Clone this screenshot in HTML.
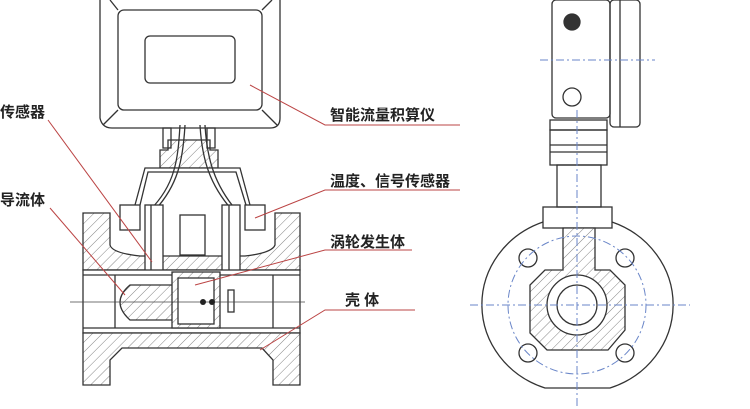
<!DOCTYPE html>
<html><head><meta charset="utf-8"><style>
html,body{margin:0;padding:0;background:#fff;}
svg{display:block;}
text{font-family:"Liberation Sans","Noto Sans CJK SC",sans-serif;font-weight:bold;fill:#222;font-size:15px;}
</style></head><body>
<svg width="750" height="409" viewBox="0 0 750 409" xmlns="http://www.w3.org/2000/svg">
<defs>
<pattern id="h" width="7" height="7" patternUnits="userSpaceOnUse" patternTransform="rotate(45)">
<rect width="7" height="7" fill="#fff"/><line x1="0" y1="0" x2="0" y2="7" stroke="#666" stroke-width="0.8"/>
</pattern>
</defs>
<g fill="none" stroke="#333" stroke-width="1.3">
<!-- display box -->
<path d="M100,0 L100,118 Q102,128 112,128 L270,128 Q280,128 280,118 L280,0" />
<rect x="118" y="10" width="144" height="100" rx="6"/>
<rect x="145" y="36" width="90" height="47" rx="5"/>
<line x1="110" y1="0" x2="118" y2="10"/><line x1="272" y1="0" x2="262" y2="10"/>
<line x1="103" y1="125" x2="118" y2="110"/><line x1="277" y1="125" x2="262" y2="110"/>
<!-- neck -->
<path d="M160,150 L160,168 L218,168 L218,150 L210,150 L210,140 L168,140 L168,150 Z" fill="url(#h)"/>
<rect x="163" y="128" width="8" height="20"/><rect x="207" y="128" width="8" height="20"/>
<path d="M135,205 L145,168 L240,168 L250,205" fill="#fff"/>
<path d="M140,205 L148,172 L236,172 L246,205"/>
<path d="M180,125 C178,160 175,185 150,210 M185,125 C183,160 178,185 155,210 M200,125 C202,160 210,185 232,210 M205,125 C207,160 215,185 236,210"/>
<!-- body top -->
<path d="M83,213 L110,213 L110,245 Q112,253 140,256 L245,256 Q272,253 275,245 L275,213 L300,213 L300,270 L83,270 Z" fill="url(#h)"/>
<rect x="120" y="205" width="20" height="25" fill="#fff"/>
<rect x="245" y="205" width="20" height="25" fill="#fff"/>
<rect x="180" y="215" width="25" height="40" fill="#fff"/>
<rect x="145" y="205" width="18" height="70" fill="#fff"/>
<rect x="222" y="205" width="18" height="70" fill="#fff"/>
<line x1="151" y1="205" x2="151" y2="275"/><line x1="229" y1="205" x2="229" y2="275"/>
<!-- bore -->
<rect x="83" y="270" width="217" height="63" fill="#fff"/>
<line x1="83" y1="275" x2="300" y2="275"/><line x1="83" y1="328" x2="300" y2="328"/>
<line x1="115" y1="275" x2="115" y2="328"/><line x1="273" y1="275" x2="273" y2="328"/>
<path d="M130,285 Q110,302 130,320 L175,320 L175,285 Z" fill="url(#h)"/>
<rect x="172" y="272" width="48" height="56" fill="url(#h)"/>
<rect x="178" y="278" width="36" height="46" fill="#fff"/>
<rect x="228" y="290" width="6" height="22"/>
<!-- body bottom -->
<path d="M83,333 L300,333 L300,385 L273,385 L273,360 L262,348 L122,348 L110,360 L110,385 L83,385 Z" fill="url(#h)"/>
</g>
<line x1="70" y1="302" x2="305" y2="302" stroke="#444" stroke-width="0.8"/>
<circle cx="203" cy="302" r="3" fill="#222"/><circle cx="212" cy="302" r="3" fill="#222"/>

<!-- leaders -->
<g stroke="#b44" stroke-width="1" fill="none">
<path d="M250,85 L325,125 L460,125"/>
<path d="M48,120 L152,262"/>
<path d="M255,218 L325,190 L460,190"/>
<path d="M50,208 L125,295"/>
<path d="M195,285 L325,250 L412,250"/>
<path d="M260,350 L325,310 L415,310"/>
</g>
<text x="0" y="117">传感器</text>
<text x="330" y="120">智能流量积算仪</text>
<text x="330" y="186">温度、信号传感器</text>
<text x="0" y="205">导流体</text>
<text x="330" y="247">涡轮发生体</text>
<text x="345" y="305">壳 体</text>

<!-- right view -->
<g fill="none" stroke="#333" stroke-width="1.3">
<rect x="552" y="0" width="58" height="118" rx="4"/>
<rect x="610" y="0" width="30" height="127" rx="4"/>
<line x1="620" y1="0" x2="620" y2="127"/>
<circle cx="572" cy="22" r="8" fill="#333"/>
<circle cx="572" cy="97" r="9"/>
<rect x="550" y="120" width="57" height="10"/>
<rect x="550" y="130" width="57" height="35"/>
<line x1="550" y1="145" x2="607" y2="145"/><line x1="550" y1="152" x2="607" y2="152"/>
<rect x="557" y="165" width="44" height="42"/>
<rect x="543" y="207" width="69" height="21"/>
<path d="M543,222 A93,88 0 0 0 545,388 L610,388 A93,88 0 0 0 612,222"/>
<path d="M563,228 L563,270 L545,270 L530,285 L530,333 L547,350 L608,350 L625,330 L625,285 L610,270 L595,270 L595,228 Z" fill="url(#h)"/>
<circle cx="577" cy="305" r="30" fill="#fff"/>
<circle cx="577" cy="305" r="20"/>
<circle cx="528" cy="258" r="9"/><circle cx="625" cy="258" r="9"/>
<circle cx="528" cy="353" r="9"/><circle cx="625" cy="353" r="9"/>
</g>
<g stroke="#6a86c8" stroke-width="1" stroke-dasharray="8,3,2,3" fill="none">
<line x1="540" y1="60" x2="655" y2="60"/>
<line x1="577" y1="110" x2="577" y2="409"/>
<line x1="470" y1="305" x2="690" y2="305"/>
<circle cx="577" cy="305" r="69"/>
</g>
</svg>
</body></html>
